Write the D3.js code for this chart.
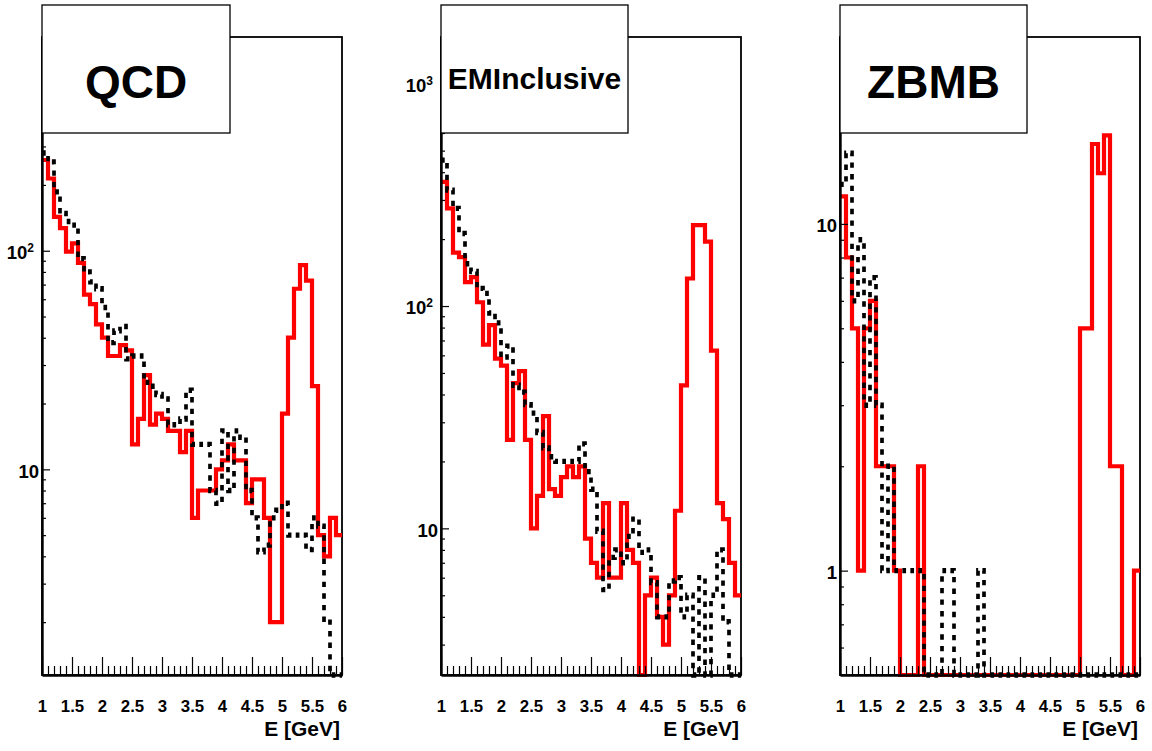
<!DOCTYPE html>
<html><head><meta charset="utf-8">
<script src="https://cdn.jsdelivr.net/npm/d3@7"></script>
<style>
body{margin:0;background:#fff;}
svg text{font-family:"Liberation Sans",Arial,Helvetica,sans-serif;font-weight:bold;fill:#000;}
</style>
</head><body>
<svg id="c" width="1152" height="751"></svg>
<script>
// ---------- data ----------
const binEdges = [1.0,1.1,1.2,1.3,1.4,1.5,1.6,1.7,1.8,1.9,2.0,2.1,2.2,2.3,2.4,2.5,2.6,2.7,2.8,2.9,
  3.0,3.1,3.2,3.3,3.4,3.5,3.6,3.7,3.8,3.9,4.0,4.1,4.2,4.3,4.4,4.5,4.6,4.7,4.8,4.9,
  5.0,5.1,5.2,5.3,5.4,5.5,5.6,5.7,5.8,5.9,6.0];
const xTickValues = [1,1.5,2,2.5,3,3.5,4,4.5,5,5.5,6];
const xTickLabels = ["1","1.5","2","2.5","3","3.5","4","4.5","5","5.5","6"];
const xAxisTitle = "E [GeV]";
const panelTitles = ["QCD","EMInclusive","ZBMB"];

const qcdRed = [260,214,143,127,99,108,88,63,57,46,40,33,33,37,35,13,17,27,16,18,
  17,15,15,12,15,6,8,8,8,10,11,13,11,11,7,9,9,6,2,2,18,40,67,86,73,24,5,4,6,5];
const qcdBlack = [280,255,186,148,136,131,92,80,72,67,55,38,43,45,32,33,33,25,24,22,
  21,16,16,17,23,13,13,13,8,7,15,8,15,14,8,6,4.2,4.5,6,6.5,7,5,5,5,4.3,6,5.5,2,0,0];
const emRed = [362,275,174,166,128,135,104,67,82,58,54,25,45,51,25,10,14,32,15,14,
  17,19,17,19,9,7,6,13,6,6,13,8,7,0,5,6,4,3,5,12,44,133,231,231,195,63,13,11,7,5];
const emBlack = [453,332,275,212,155,143,120,114,93,84,59,66,44,41,36,33,27,23,21,20,
  20,20,20,24,18,15,9.7,5.3,7.4,8,7,9.2,11,7.8,8,5.7,4,4,5.8,6,4,5,0,6,0,5,8,3.8,0,0];
const zbRed = [12,8,5,1,5,6,2,2,2,1,0,0,0,2,0,0,0,0,0,0,
  0,0,0,0,0,0,0,0,0,0,0,0,0,0,0,0,0,0,0,0,5,5,17,14,18,2,2,0,0,1];
const zbBlack = [13,16,6,9,3,7,3,1,2,1,1,1,1,1,0,0,0,1,1,0,
  0,0,0,1,0,0,0,0,0,0,0,0,0,0,0,0,0,0,0,0,0,0,0,0,0,0,0,0,0,0];

const yDomainQCD = [1.146, 950];
const yDomainEM = [2.19, 1622];
const yDomainZB = [0.5, 34.6];
const yLabelsQCD = [[10,"10",""],[100,"10","2"]];
const yLabelsEM = [[10,"10",""],[100,"10","2"],[1000,"10","3"]];
const yLabelsZB = [[1,"1",""],[10,"10",""]];

// ---------- layout ----------
const frameTop = 37, frameBottom = 675, frameW = 300;
const panelX = [42, 441, 840];
const boxRight = [230, 628, 1027];
const boxTop = 5, boxBottom = 133;
const titleSize = [46, 30, 46];
const titleBase = [98, 89, 98];

const panels = [
  {red: qcdRed, black: qcdBlack, yDom: yDomainQCD, yLabels: yLabelsQCD},
  {red: emRed, black: emBlack, yDom: yDomainEM, yLabels: yLabelsEM},
  {red: zbRed, black: zbBlack, yDom: yDomainZB, yLabels: yLabelsZB}
];

const svg = d3.select("#c");
svg.append("rect").attr("width",1152).attr("height",751).attr("fill","#fff");

function stepPoints(vals){
  const pts = [];
  vals.forEach((v,k)=>{ pts.push([binEdges[k], v]); pts.push([binEdges[k+1], v]); });
  return pts;
}

panels.forEach((p,i)=>{
  const x0 = panelX[i];
  const x = d3.scaleLinear().domain([1,6]).range([x0, x0+frameW]);
  const y = d3.scaleLog().domain(p.yDom).range([frameBottom, frameTop]);
  const yc = v => y(Math.min(Math.max(v, p.yDom[0]), p.yDom[1]));
  const g = svg.append("g");

  // frame
  g.append("rect").attr("x",x0).attr("y",frameTop).attr("width",frameW)
    .attr("height",frameBottom-frameTop).attr("fill","none")
    .attr("stroke","#000").attr("stroke-width",1.8);

  // red histogram
  const lineR = d3.line().x(d=>x(d[0])).y(d=>yc(d[1]));
  g.append("path").attr("d", lineR(stepPoints(p.red)))
    .attr("fill","none").attr("stroke","#ff0000").attr("stroke-width",4.2)
    .attr("stroke-linejoin","miter");

  // black dotted histogram (vertical dot spacing larger than horizontal, as in reference)
  const sy = 1.45;
  const lineB = d3.line().x(d=>x(d[0])).y(d=>yc(d[1])/sy);
  g.append("g").attr("transform",`scale(1,${sy})`)
    .append("path").attr("d", lineB(stepPoints(p.black)))
    .attr("fill","none").attr("stroke","#000").attr("stroke-width",3.7)
    .attr("stroke-dasharray","3.7 4.3");

  // x axis: major ticks + labels
  const xAxis = d3.axisBottom(x).tickValues(xTickValues)
    .tickFormat((d,j)=>xTickLabels[j]).tickSizeInner(-18).tickSizeOuter(0).tickPadding(25);
  const gx = g.append("g").attr("transform",`translate(0,${frameBottom})`).call(xAxis);
  gx.select(".domain").attr("stroke-width",2.4);
  gx.selectAll(".tick line").attr("stroke-width",1.2);
  gx.selectAll("text").attr("font-size",16.8).attr("font-family",null).attr("fill","#000");
  // minor x ticks
  const minorX = binEdges.filter(e=>!xTickValues.some(t=>Math.abs(t-e)<1e-9));
  const gxm = g.append("g").attr("transform",`translate(0,${frameBottom})`)
    .call(d3.axisBottom(x).tickValues(minorX).tickFormat("").tickSizeInner(-9).tickSizeOuter(0));
  gxm.select(".domain").remove();
  gxm.selectAll(".tick line").attr("stroke-width",1.2);

  // y axis: major ticks + labels
  const yAxis = d3.axisLeft(y).tickValues(p.yLabels.map(l=>l[0]))
    .tickFormat("").tickSizeInner(-8).tickSizeOuter(0).tickPadding(3);
  const gy = g.append("g").attr("transform",`translate(${x0},0)`).call(yAxis);
  gy.select(".domain").attr("stroke-width",2.4);
  gy.selectAll(".tick line").attr("stroke-width",1.2);
  gy.selectAll(".tick").each(function(d){
    const lab = p.yLabels.find(l=>l[0]===d);
    const t = d3.select(this).select("text").text(null)
      .attr("font-size",18.5).attr("font-family",null).attr("fill","#000").attr("dy","0.43em");
    t.append("tspan").text(lab[1]);
    if (lab[2]) {
      t.attr("x",-8);
      t.append("tspan").attr("font-size",12).attr("dy",-7).text(lab[2]);
    }
  });
  // minor y ticks
  const minorY = [];
  [0.1,1,10,100,1000].forEach(dec=>{ [2,3,4,5,6,7,8,9].forEach(m=>{
    const v = dec*m; if (v>p.yDom[0] && v<p.yDom[1]) minorY.push(v); }); });
  const gym = g.append("g").attr("transform",`translate(${x0},0)`)
    .call(d3.axisLeft(y).tickValues(minorY).tickFormat("").tickSizeInner(-4).tickSizeOuter(0));
  gym.select(".domain").remove();
  gym.selectAll(".tick line").attr("stroke-width",1.2);

  // axis title
  g.append("text").attr("x",x0+frameW-2).attr("y",736).attr("text-anchor","end")
    .attr("font-size",21).text(xAxisTitle);

  // title box
  g.append("rect").attr("x",x0).attr("y",boxTop).attr("width",boxRight[i]-x0)
    .attr("height",boxBottom-boxTop).attr("fill","#fff").attr("stroke","#000").attr("stroke-width",1.3);
  g.append("text").attr("x",(x0+boxRight[i])/2).attr("y",titleBase[i])
    .attr("text-anchor","middle").attr("font-size",titleSize[i]).text(panelTitles[i]);
});
</script>
</body></html>
